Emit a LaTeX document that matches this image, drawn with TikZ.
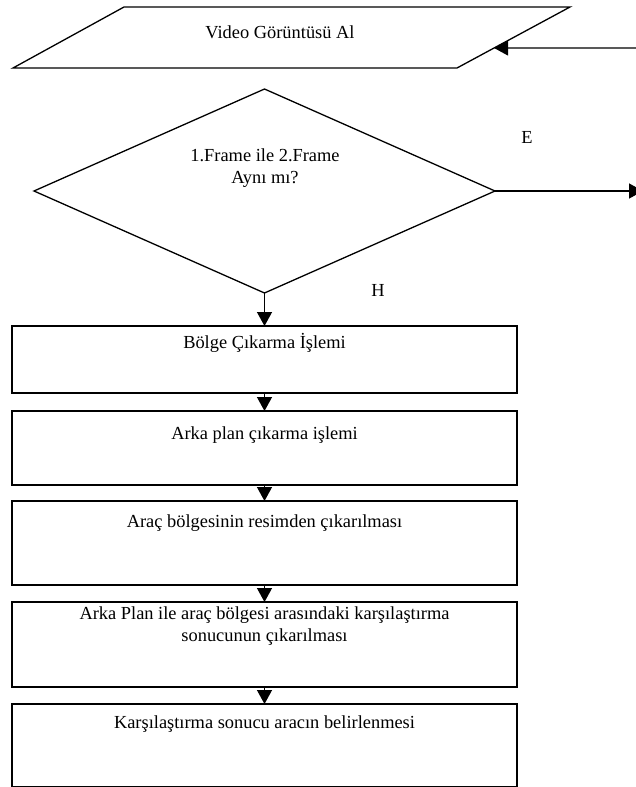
\documentclass[tikz,border=0pt]{standalone}
\usepackage{fontspec}
\setmainfont{Liberation Serif}
\usetikzlibrary{shapes.geometric,arrows.meta}

\begin{document}
\begin{tikzpicture}[x=1pt,y=-1pt,font=\fontsize{18.4}{22.5}\selectfont,
    ln/.style={line width=1.3pt},
    arr/.style={ln, -{Triangle[width=15pt,length=14pt]}},
    box/.style={ln, draw, rectangle, minimum width=505pt, inner sep=0pt, outer sep=0pt},
    dec/.style={ln, draw, diamond, minimum width=461pt, minimum height=204pt, inner sep=0pt, outer sep=0pt},
    txt/.style={align=center, inner sep=0pt}]
  \useasboundingbox (0,0) rectangle (635,787);
  % input: video
  \coordinate (p1) at (124,7); \coordinate (p2) at (570,7);
  \coordinate (p3) at (457,68); \coordinate (p4) at (13,68);
  \draw[ln] (p1) -- (p2) -- (p3) -- (p4) -- cycle;
  \node[txt] (vid) at (280,32) {Video Görüntüsü Al};
  \path (p2) -- (p3) coordinate[pos=0.672] (vidin);
  \coordinate (back) at (640,48);
  \draw[arr] (back) -- (vidin);
  % decision
  \node[dec] (cmp) at (264.5,191) {};
  \node[txt] (cmptxt) at (265,168) {1.Frame ile 2.Frame\\Aynı mı?};
  \coordinate (yes) at (643,191);
  \draw[arr] (cmp.east) -- (yes);
  \node[txt] (e) at (527,137) {E};
  \node[txt] (h) at (378,290) {H};
  % steps
  \node[box, minimum height=67pt] (b1) at (264.5,359.5) {};
  \node[txt] (t1) at (264.5,343) {Bölge Çıkarma İşlemi};
  \node[box, minimum height=74pt] (b2) at (264.5,448) {};
  \node[txt] (t2) at (264.5,435) {Arka plan çıkarma işlemi};
  \node[box, minimum height=84pt] (b3) at (264.5,543) {};
  \node[txt] (t3) at (264.5,523) {Araç bölgesinin resimden çıkarılması};
  \node[box, minimum height=85pt] (b4) at (264.5,644.5) {};
  \node[txt] (t4) at (264.5,626) {Arka Plan ile araç bölgesi arasındaki karşılaştırma\\sonucunun çıkarılması};
  \node[box, minimum height=83pt] (b5) at (264.5,745.5) {};
  \node[txt] (t5) at (264.5,724) {Karşılaştırma sonucu aracın belirlenmesi};
  \draw[arr] (cmp.south) -- (b1.north);
  \draw[arr] (b1.south) -- (b2.north);
  \draw[arr] (b2.south) -- (b3.north);
  \draw[arr] (b3.south) -- (b4.north);
  \draw[arr] (b4.south) -- (b5.north);
\end{tikzpicture}
\end{document}
